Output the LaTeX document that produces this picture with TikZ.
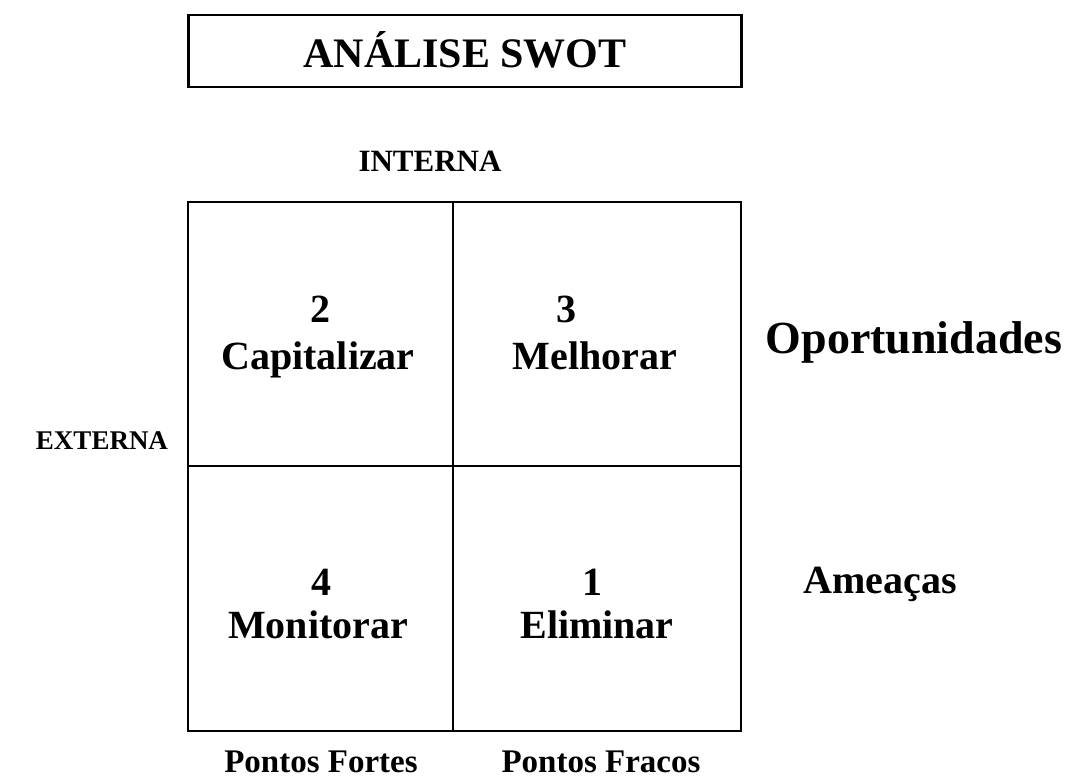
\documentclass[tikz,border=0pt]{standalone}
\usepackage{fontspec}
\setmainfont{Liberation Serif}
\usepackage{tikz}

\begin{document}
\begin{tikzpicture}[x=1pt,y=-1pt,
    frame/.style={draw, line width=2.2pt},
    big/.style={anchor=base, font=\bfseries\fontsize{40}{48}\selectfont},
    axis/.style={anchor=base, font=\bfseries\fontsize{31}{37}\selectfont}]

        \useasboundingbox (0,0) rectangle (1072,778);

        % title box
        \node[frame, minimum width=553pt, minimum height=72pt] (title) at (465,51) {};
        \node[anchor=base, font=\bfseries\fontsize{42}{50}\selectfont] (titletext) at (465,68) {ANÁLISE SWOT};

        % grid corners
        \coordinate (tl) at (188,202);
        \coordinate (tm) at (453,202);
        \coordinate (tr) at (741,202);
        \coordinate (ml) at (188,466);
        \coordinate (mr) at (741,466);
        \coordinate (bl) at (188,731);
        \coordinate (bm) at (453,731);
        \coordinate (br) at (741,731);

        \draw[frame] (tl) -- (tr) -- (br) -- (bl) -- cycle;
        \draw[frame] (tm) -- (bm);
        \draw[frame] (ml) -- (mr);

        \begin{scope}[every node/.style={big}]
          \node (n2) at (320,323) {2};
          \node (cap) at (318,370) {Capitalizar};
          \node (n3) at (566,323) {3};
          \node (mel) at (595,370) {Melhorar};
          \node (n4) at (321,595) {4};
          \node (mon) at (318,638) {Monitorar};
          \node (n1) at (592,595) {1};
          \node (eli) at (597,638) {Eliminar};
          \node[font=\bfseries\fontsize{46}{54}\selectfont] (opo) at (914,353) {Oportunidades};
          \node (ame) at (880,593) {Ameaças};
        \end{scope}

        \begin{scope}[every node/.style={axis}]
          \node (int) at (430,172) {INTERNA};
          \node[font=\bfseries\fontsize{27}{32}\selectfont] (ext) at (102,449) {EXTERNA};
          \node[font=\bfseries\fontsize{33}{40}\selectfont] (pf) at (321,772) {Pontos Fortes};
          \node[font=\bfseries\fontsize{33}{40}\selectfont] (pr) at (601,772) {Pontos Fracos};
        \end{scope}

      \end{tikzpicture}
\end{document}
